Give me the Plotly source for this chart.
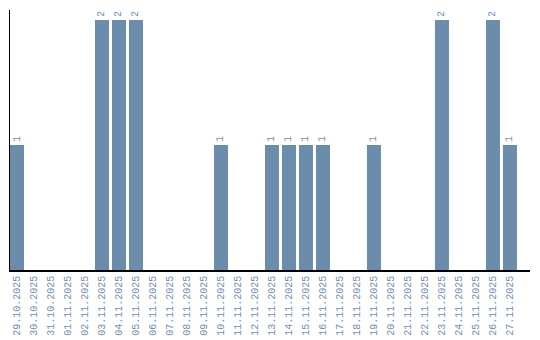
import plotly.graph_objects as go

dates = ["29.10.2025", "30.10.2025", "31.10.2025", "01.11.2025", "02.11.2025",
         "03.11.2025", "04.11.2025", "05.11.2025", "06.11.2025", "07.11.2025",
         "08.11.2025", "09.11.2025", "10.11.2025", "11.11.2025", "12.11.2025",
         "13.11.2025", "14.11.2025", "15.11.2025", "16.11.2025", "17.11.2025",
         "18.11.2025", "19.11.2025", "20.11.2025", "21.11.2025", "22.11.2025",
         "23.11.2025", "24.11.2025", "25.11.2025", "26.11.2025", "27.11.2025"]
counts = [1, 0, 0, 0, 0, 2, 2, 2, 0, 0, 0, 0, 1, 0, 0, 1, 1, 1, 1, 0,
          0, 1, 0, 0, 0, 2, 0, 0, 2, 1]

bar_color = "#6b8cab"
text_color = "#6f8fb0"
labels = [str(v) if v else "" for v in counts]

fig = go.Figure(go.Bar(
    x=list(range(len(dates))), y=counts,
    marker=dict(color=bar_color, line=dict(width=0)),
    text=labels, textposition="outside", textangle=-90,
    textfont=dict(family="Liberation Mono", size=10, color=text_color),
    cliponaxis=False,
))
fig.update_layout(
    width=540, height=340,
    margin=dict(l=10, r=10, t=10, b=70),
    paper_bgcolor="white", plot_bgcolor="white",
    bargap=0.176, showlegend=False,
    xaxis=dict(range=[-0.412, 30.18], tickmode="array",
               tickvals=list(range(len(dates))), ticktext=dates,
               tickangle=-90, showgrid=False, zeroline=False,
               showline=True, linecolor="black", linewidth=1.5,
               ticks="", automargin=False,
               tickfont=dict(family="Liberation Mono", size=10, color=text_color)),
    yaxis=dict(range=[0, 2.08], showgrid=False, zeroline=False,
               showline=True, linecolor="black", linewidth=1,
               showticklabels=False, ticks="", automargin=False),
)
fig.write_html("out.html")
